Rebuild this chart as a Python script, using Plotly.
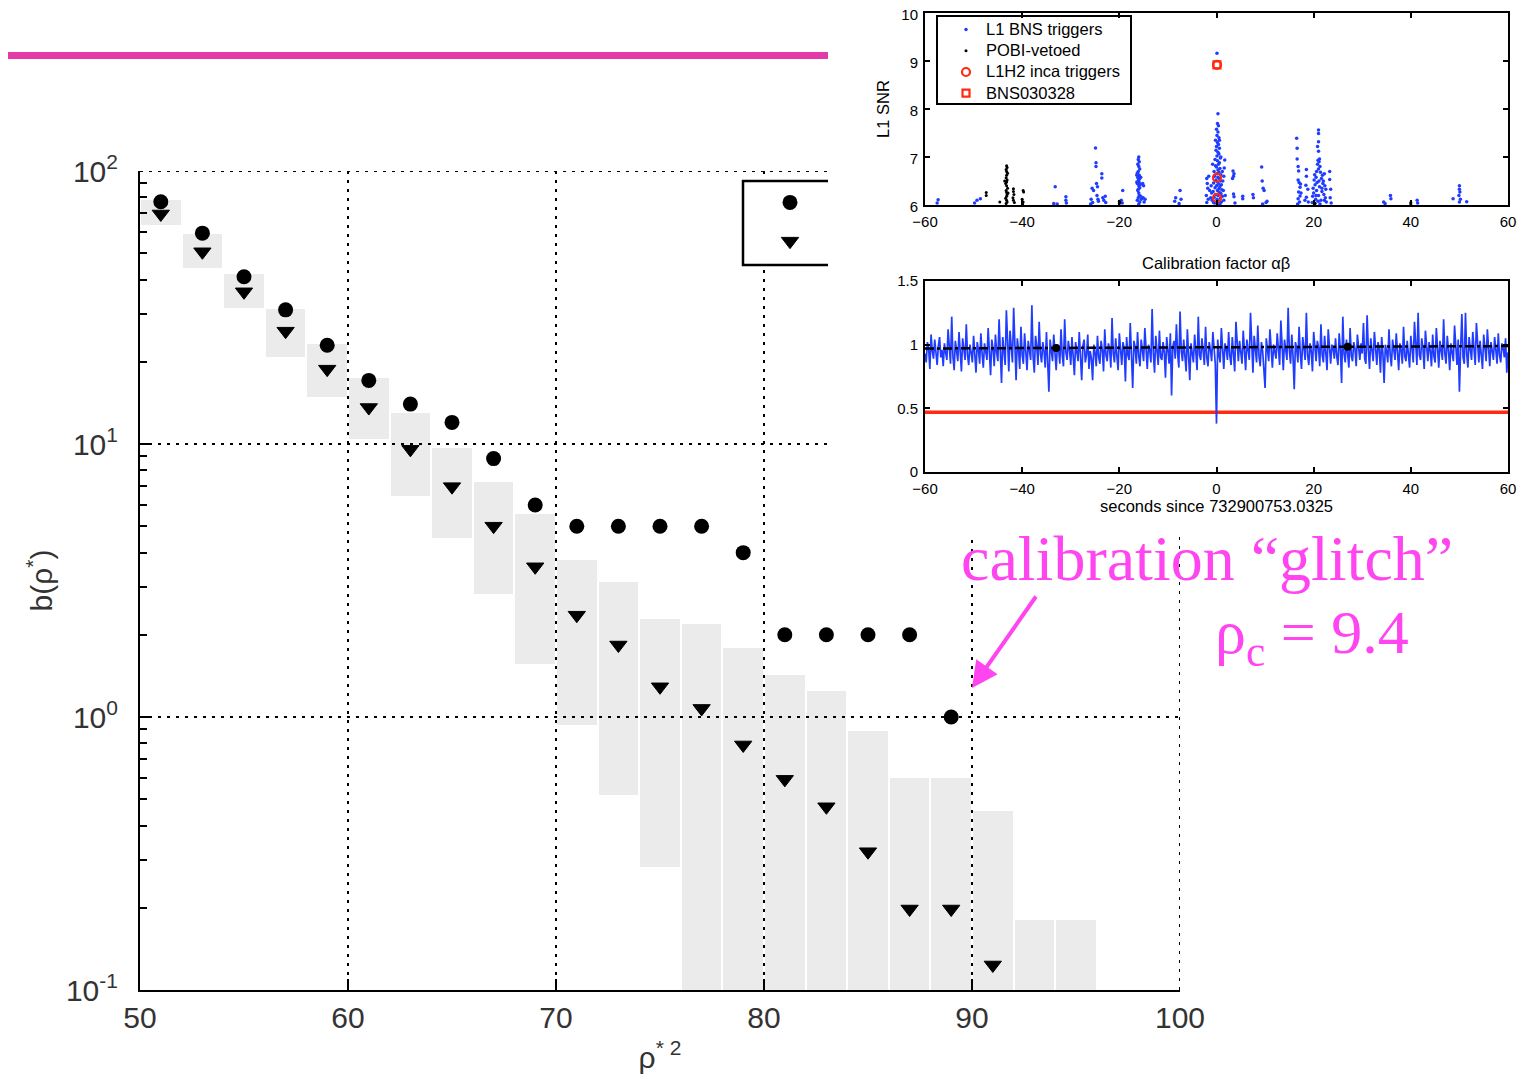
import plotly.graph_objects as go

W, H = 1529, 1079
OFF = 8  # the page body margin shifts the figure by 8 px


def px(x):
    return (x - OFF) / W


def py(y):
    return 1 - (y - OFF) / H


# ---------------- main panel data ----------------
rho2_bins = [51, 53, 55, 57, 59, 61, 63, 65, 67, 69, 71, 73, 75, 77, 79, 81, 83, 85, 87, 89, 91, 93, 95]
box_top = [78.3, 58.7, 41.8, 31.2, 23.2, 17.4, 13.0, 9.69, 7.24, 5.53, 3.76, 3.13, 2.29, 2.19, 1.785,
           1.43, 1.25, 0.891, 0.596, 0.596, 0.454, 0.180, 0.180]
box_bot = [63.4, 44.0, 31.4, 20.9, 14.9, 10.4, 6.47, 4.51, 2.82, 1.56, 0.935, 0.52, 0.283, 0.01, 0.01,
           0.01, 0.01, 0.01, 0.01, 0.01, 0.01, 0.01, 0.01]

circ_x = [51, 53, 55, 57, 59, 61, 63, 65, 67, 69, 71, 73, 75, 77, 79, 81, 83, 85, 87, 89]
circ_y = [77.2, 59.2, 41.0, 31.0, 23.0, 17.1, 14.0, 12.0, 8.84, 5.98, 5.0, 5.0, 5.0, 5.0, 4.0,
          2.0, 2.0, 2.0, 2.0, 1.0]

tri_x = [51, 53, 55, 57, 59, 61, 63, 65, 67, 69, 71, 73, 75, 77, 79, 81, 83, 85, 87, 89, 91]
tri_y = [69.6, 50.6, 36.1, 25.9, 18.8, 13.6, 9.56, 6.98, 5.0, 3.55, 2.36, 1.835, 1.29, 1.075, 0.79,
         0.591, 0.469, 0.321, 0.198, 0.198, 0.1235]

x_ticks = [50, 60, 70, 80, 90, 100]
y_ticks = [0.1, 1, 10, 100]
y_ticktext = ["10<sup>-1</sup>", "10<sup>0</sup>", "10<sup>1</sup>", "10<sup>2</sup>"]
y_minor = [m * d for d in (0.1, 1, 10) for m in range(2, 10)]

# ---------------- inset 1: L1 SNR triggers ----------------
bns_t = [-57.3, -57.5, -49.3, -49.8, -48.6, -33.2, -33.5, -32.8, -31.0, -31.0, -30.9,
         -25.6, -25.3, -25.8, -25.5, -24.9, -24.8, -24.8, -24.7, -24.5, -24.6, -24.4, -24.3, -23.6, -23.6,
         -23.4, -23.2, -22.9, -22.8, -25.9,
         -19.3, -19.6, -19.4,
         -16.0, -16.1, -15.9, -16.2, -16.0, -15.8, -16.1, -16.3, -15.9, -16.0, -16.2, -15.8, -16.0, -16.1,
         -15.9, -16.3, -16.0, -15.8, -16.2, -16.0, -15.9, -16.1, -16.3, -15.8, -16.0, -16.4, -15.6, -16.4,
         -15.7, -16.1, -15.6, -15.5,
         -15.2, -15.0, -15.1, -14.7, -14.9,
         -8.4, -8.6, -7.5, -7.3, -7.7,
         -2.0, -1.9, -1.8, -2.1, -1.7, -2.0, -1.6, -1.4,
         0.1, 0.3, 0.2, 0.4, 0.0, 0.3, 0.1, 0.5, -0.2, 0.2, 0.4, 0.0, 0.6, -0.1, 0.3, 0.5, 0.1, 0.8, -0.3,
         0.2, 0.6, 0.4, -0.2, 0.0, 0.7, 0.3, -0.5, 0.5, 0.1, 0.9, -0.4, 0.3, 0.6, -0.1, 0.8, 0.2, -0.6, 0.4,
         1.0, 0.0, 0.7, -0.3, 0.5, 1.1, 0.2, -0.7, 0.6, 0.9, -0.2, 0.3, 1.2, -0.5, 0.8, 0.1, -0.9, 0.5, 1.0,
         -0.4, 0.7, 0.2, -1.0, -1.1, 1.3, 1.4, 1.5, 1.7, 1.6, 1.5, -0.8, 1.2, -1.2, 1.8, 0.9, 0.6, -0.6,
         3.4, 3.6, 3.5, 3.3, 3.5, 3.6, 3.8,
         5.4, 5.4, 7.5, 7.6, 9.3, 9.4, 9.6, 9.8, 10.2, 10.4, 9.5,
         16.5, 16.6, 16.6, 16.8, 16.9, 16.8, 17.0, 17.2, 16.9, 17.2, 16.8, 17.1, 16.7, 17.3, 17.4,
         18.5, 18.5, 18.4, 18.8, 18.5, 18.9, 18.2,
         21.0, 21.0, 21.0, 20.8, 21.0, 21.2, 20.9, 21.1, 20.8, 21.3, 21.0, 20.6, 21.4, 20.2, 21.8, 22.2,
         20.5, 21.6, 20.1, 22.0, 20.7, 21.9, 20.3, 22.3, 21.2, 19.9, 22.5, 20.6, 21.7, 20.0, 22.1, 21.0,
         19.8, 22.4, 20.4, 21.5, 20.9, 22.6, 20.2, 21.3, 19.7, 22.2, 21.1, 20.5, 21.7,
         23.3, 23.3, 23.5, 23.4, 23.6,
         34.4, 34.7, 35.8, 35.9, 41.3, 41.4, 48.7, 50.0, 50.0, 50.1, 49.9, 50.2, 50.0, 51.5]
bns_snr = [6.11, 6.04, 6.10, 6.04, 6.13, 6.38, 6.03, 6.02, 6.17, 6.10, 6.04,
           6.35, 6.30, 6.12, 6.05, 7.19, 6.88, 6.80, 6.45, 6.38, 6.20, 6.12, 6.08, 6.65, 6.56,
           6.15, 6.10, 6.18, 6.05, 6.02,
           6.30, 6.10, 6.04,
           7.00, 6.95, 6.90, 6.85, 6.80, 6.75, 6.70, 6.66, 6.62, 6.60, 6.57, 6.55, 6.52, 6.50,
           6.47, 6.45, 6.40, 6.36, 6.30, 6.25, 6.20, 6.15, 6.10, 6.06, 6.02, 6.62, 6.58, 6.48,
           6.42, 6.33, 6.18, 6.12,
           6.45, 6.40, 6.15, 6.12, 6.06,
           6.15, 6.08, 6.30, 6.12, 6.03,
           6.55, 6.45, 6.35, 6.20, 6.12, 6.05, 6.60, 6.30,
           9.16, 7.90, 7.70, 7.65, 7.58, 7.52, 7.45, 7.40, 7.35, 7.30, 7.26, 7.22, 7.18, 7.14, 7.10, 7.06, 7.02, 6.98, 6.95,
           6.92, 6.88, 6.85, 6.82, 6.79, 6.76, 6.73, 6.70, 6.68, 6.65, 6.63, 6.60, 6.58, 6.55, 6.52, 6.50, 6.48, 6.46, 6.44,
           6.42, 6.40, 6.38, 6.36, 6.34, 6.32, 6.30, 6.28, 6.26, 6.24, 6.22, 6.20, 6.18, 6.16, 6.14, 6.12, 6.10, 6.08, 6.06,
           6.04, 6.02, 6.01, 6.25, 6.40, 6.50, 6.30, 6.10, 6.94, 6.77, 6.60, 6.85, 6.70, 6.15, 6.20, 7.00, 7.35, 6.05,
           6.71, 6.65, 6.60, 6.55, 6.23, 6.17, 6.04,
           6.18, 6.13, 6.22, 6.15, 6.79, 6.50, 6.35, 6.30, 6.05, 6.08, 6.02,
           7.39, 7.18, 6.96, 6.80, 6.71, 6.52, 6.47, 6.37, 6.27, 6.19, 6.13, 6.06, 6.02, 6.44, 6.25,
           6.74, 6.60, 6.41, 6.33, 6.16, 6.06, 6.10,
           7.56, 7.49, 7.32, 7.22, 7.12, 6.96, 6.93, 6.90, 6.85, 6.80, 6.75, 6.70, 6.68, 6.63, 6.62, 6.65,
           6.58, 6.55, 6.52, 6.50, 6.47, 6.45, 6.42, 6.40, 6.38, 6.35, 6.33, 6.30, 6.28, 6.25, 6.22, 6.20,
           6.18, 6.15, 6.12, 6.10, 6.08, 6.06, 6.04, 6.02, 6.05, 6.10, 6.50, 6.20, 6.35,
           6.70, 6.53, 6.33, 6.15, 6.04,
           6.06, 6.03, 6.20, 6.13, 6.10, 6.04, 6.13, 6.40, 6.33, 6.27, 6.20, 6.12, 6.06, 6.07]

pobi_t = [-47.4, -47.4, -44.6,
          -43.2, -43.1, -43.3, -43.2, -43.0, -43.2, -43.3, -43.1, -43.2, -43.4, -43.2, -43.0, -43.3, -43.2,
          -43.1, -43.2, -43.4, -43.2, -43.1, -43.3, -43.6, -42.9,
          -41.8, -41.8, -41.7, -41.9, -41.8, -41.6,
          -39.8, -39.7, -40.0, -39.8, -39.9,
          -20.0, -20.0, -19.9, 20.3, 40.0, 40.0]
pobi_snr = [6.26, 6.20, 6.06,
            6.82, 6.78, 6.74, 6.70, 6.66, 6.62, 6.57, 6.52, 6.48, 6.45, 6.40, 6.35, 6.30, 6.26,
            6.22, 6.18, 6.14, 6.10, 6.06, 6.03, 6.50, 6.25,
            6.34, 6.28, 6.22, 6.15, 6.10, 6.05,
            6.30, 6.27, 6.12, 6.06, 6.02,
            6.08, 6.03, 6.05, 6.03, 6.05, 6.02]

inca_t = [0.1, 0.1, 0.1]
inca_snr = [8.92, 6.57, 6.15]
bns030328_t = [0.1]
bns030328_snr = [8.92]

# ---------------- inset 2: calibration factor ----------------
calib_t0 = -60
calib_dt = 0.25
calib = [
    0.93, 0.86, 1.02, 0.97, 0.81, 1.08, 0.95, 0.89, 1.04, 0.92, 0.84, 0.99, 1.06, 0.90, 0.96, 0.83, 1.01, 0.94, 0.88, 1.12,
    0.97, 0.85, 1.22, 0.91, 0.80, 1.03, 0.95, 0.87, 1.10, 0.93, 0.79, 1.05, 0.98, 0.88, 1.16, 0.92, 0.84, 1.00, 0.94, 0.86,
    1.07, 0.90, 0.78, 1.02, 0.96, 0.85, 1.09, 0.93, 0.82, 1.01, 0.95, 0.88, 1.13, 0.91, 0.76, 1.04, 0.97, 0.83, 1.08, 0.94,
    0.87, 1.20, 0.90, 0.70, 1.06, 0.95, 0.84, 1.27, 0.93, 0.79, 1.11, 0.98, 0.86, 1.29, 0.89, 0.72, 1.05, 0.96, 0.81, 1.14,
    0.92, 0.85, 1.09, 0.97, 0.80, 1.03, 0.94, 0.88, 1.31, 0.91, 0.78, 1.07, 0.99, 0.84, 1.18, 0.93, 0.86, 1.02, 0.95, 0.82,
    1.10, 0.90, 0.63, 1.04, 0.96, 0.87, 1.08, 0.93, 0.80, 1.00, 0.97, 0.85, 1.12, 0.92, 0.83, 1.20, 0.94, 0.88, 1.03, 0.96,
    0.84, 1.06, 0.91, 0.76, 1.02, 0.95, 0.87, 1.10, 0.93, 0.72, 0.99, 1.04, 0.86, 0.92, 1.08, 0.81, 0.95, 0.89, 0.72, 1.00,
    0.94, 0.83, 1.07, 0.90, 0.85, 1.03, 0.96, 0.79, 1.12, 0.92, 0.87, 1.01, 0.97, 0.82, 1.21, 0.93, 0.86, 1.05, 0.91, 0.80,
    1.09, 0.95, 0.84, 1.02, 0.97, 0.71, 1.06, 0.92, 0.88, 1.17, 0.94, 0.66, 1.03, 0.98, 0.85, 1.10, 0.91, 0.83, 1.04, 0.95,
    0.87, 1.13, 0.92, 0.81, 1.00, 0.96, 0.86, 1.28, 0.93, 0.78, 1.07, 0.97, 0.84, 1.11, 0.90, 0.88, 1.02, 0.94, 0.74, 1.06,
    0.95, 0.85, 1.09, 0.60, 0.98, 1.03, 0.89, 1.16, 0.93, 0.82, 1.26, 0.95, 0.87, 1.04, 0.91, 0.79, 1.12, 0.96, 0.72, 1.01,
    0.93, 0.86, 1.08, 0.97, 0.80, 1.22, 0.92, 0.88, 1.05, 0.95, 0.84, 1.14, 0.90, 0.83, 1.02, 0.96, 0.87, 1.10, 0.93, 0.85,
    0.38, 1.04, 0.92, 0.86, 1.13, 0.95, 0.81, 1.01, 0.97, 0.88, 1.10, 0.91, 0.84, 1.06, 0.94, 0.79, 1.18, 0.96, 0.87, 1.03,
    0.92, 0.85, 1.11, 0.97, 0.80, 1.04, 0.94, 0.88, 1.25, 0.93, 0.78, 1.07, 0.98, 0.86, 1.15, 0.91, 0.83, 1.02, 0.95, 0.74,
    0.66, 1.05, 0.93, 0.87, 1.12, 0.96, 0.82, 1.00, 0.94, 0.89, 1.09, 0.92, 0.84, 1.19, 0.97, 0.80, 1.04, 0.93, 0.88, 1.29,
    0.95, 0.85, 1.08, 0.91, 0.65, 1.02, 0.97, 0.86, 1.14, 0.93, 0.81, 1.06, 0.96, 0.88, 1.25, 0.92, 0.84, 1.01, 0.95, 0.79,
    1.10, 0.94, 0.87, 1.03, 0.98, 0.83, 1.16, 0.92, 0.86, 1.07, 0.95, 0.80, 1.12, 0.93, 0.85, 1.00, 0.97, 0.89, 1.05, 0.91,
    0.84, 1.09, 0.96, 0.70, 1.22, 0.93, 0.86, 1.04, 0.95, 0.82, 1.13, 0.91, 0.87, 1.02, 0.97, 0.83, 1.08, 0.94, 0.88, 1.01,
    0.93, 1.17, 0.89, 0.85, 1.23, 0.96, 0.81, 1.05, 0.92, 0.87, 1.10, 0.95, 0.84, 1.02, 0.97, 0.78, 1.06, 0.93, 0.70, 1.00,
    0.95, 0.86, 1.12, 0.92, 0.83, 1.04, 0.97, 0.88, 1.09, 0.94, 0.80, 1.01, 0.96, 0.85, 1.14, 0.91, 0.87, 1.03, 0.95, 0.82,
    1.07, 0.93, 0.86, 1.18, 0.96, 0.84, 1.25, 0.92, 0.88, 1.05, 0.97, 0.81, 1.11, 0.94, 0.87, 1.02, 0.95, 0.83, 1.08, 0.91,
    0.86, 1.13, 0.94, 0.82, 1.03, 0.97, 0.88, 1.20, 0.93, 0.85, 1.07, 0.96, 0.80, 1.01, 0.92, 0.87, 1.15, 0.94, 0.84, 1.04,
    0.63, 0.97, 1.24, 0.90, 0.85, 1.25, 0.93, 0.82, 1.06, 0.96, 0.88, 1.10, 0.92, 0.84, 1.17, 0.95, 0.86, 1.03, 0.91, 0.81,
    1.08, 0.94, 0.87, 1.12, 0.96, 0.83, 1.02, 0.93, 0.88, 1.06, 0.95, 0.85, 1.09, 0.92, 0.86, 1.01, 0.97, 0.90, 1.05, 0.78,
    0.94,
]
ref_t = [-60, 60]
ref_val = [0.970, 0.989]
ref_pt_t = [-33, 27]
ref_pt_val = [0.974, 0.984]
thresh_t = [-60, 60]
thresh_val = [0.47, 0.47]

# ---------------- styling ----------------
SANS = "Liberation Sans, Arial, Helvetica, sans-serif"
SERIF = "Liberation Serif, Times New Roman, serif"
MAIN_FONT = dict(family=SANS, size=30, color="#333333")
TICK_FONT = dict(family=SANS, size=15, color="black")
SMALL_FONT = dict(family=SANS, size=16.5, color="black")
MAGENTA = "#ff45f0"
BLUE = "#1f3cff"
GRID_DASH = "3px,6px"


def leg_label(s):
    return f'<span style="font-size:16.5px">{s}</span>'


fig = go.Figure()

# main panel (boxes translucent so the dotted grid shows through them)
fig.add_trace(go.Bar(
    x=rho2_bins, y=[t - b for t, b in zip(box_top, box_bot)], base=box_bot, width=1.9,
    marker=dict(color="rgba(0,0,0,0.08)", line=dict(width=0)),
    showlegend=False, hoverinfo="skip", xaxis="x", yaxis="y"))
fig.add_trace(go.Scatter(
    x=circ_x, y=circ_y, mode="markers", name=" ", legend="legend",
    marker=dict(symbol="circle", size=15, color="black"), xaxis="x", yaxis="y"))
fig.add_trace(go.Scatter(
    x=tri_x, y=tri_y, mode="markers", name="  ", legend="legend",
    marker=dict(symbol="triangle-down", size=15, color="black", line=dict(color="black", width=1)),
    xaxis="x", yaxis="y"))

# white cover panel for the inset area
fig.add_trace(go.Scatter(x=[None], y=[None], xaxis="x2", yaxis="y2", showlegend=False, hoverinfo="skip"))

# inset 1
fig.add_trace(go.Scatter(
    x=bns_t, y=bns_snr, mode="markers", name=leg_label("L1 BNS triggers"), legend="legend2",
    marker=dict(size=3.5, color=BLUE), xaxis="x3", yaxis="y3"))
fig.add_trace(go.Scatter(
    x=pobi_t, y=pobi_snr, mode="markers", name=leg_label("POBI-vetoed"), legend="legend2",
    marker=dict(size=3, color="black"), xaxis="x3", yaxis="y3"))
fig.add_trace(go.Scatter(
    x=inca_t, y=inca_snr, mode="markers", name=leg_label("L1H2 inca triggers"), legend="legend2",
    marker=dict(symbol="circle-open", size=8, color="#ff2a10", line=dict(width=2.2)), xaxis="x3", yaxis="y3"))
fig.add_trace(go.Scatter(
    x=bns030328_t, y=bns030328_snr, mode="markers", name=leg_label("BNS030328"), legend="legend2",
    marker=dict(symbol="square-open", size=7, color="#ff2a10", line=dict(width=2.2)), xaxis="x3", yaxis="y3"))

# inset 2
fig.add_trace(go.Scatter(
    x=thresh_t, y=thresh_val, mode="lines", line=dict(color="#ff2a10", width=3.5),
    showlegend=False, xaxis="x4", yaxis="y4"))
fig.add_trace(go.Scatter(
    x0=calib_t0, dx=calib_dt, y=calib, mode="lines", line=dict(color=BLUE, width=1.7),
    showlegend=False, xaxis="x4", yaxis="y4"))
fig.add_trace(go.Scatter(
    x=ref_t, y=ref_val, mode="lines", line=dict(color="black", width=2.5, dash="dashdot"),
    showlegend=False, xaxis="x4", yaxis="y4"))
fig.add_trace(go.Scatter(
    x=ref_pt_t, y=ref_pt_val, mode="markers", marker=dict(color="black", size=8),
    showlegend=False, xaxis="x4", yaxis="y4"))

inset_axis = dict(showline=True, linecolor="black", linewidth=2, mirror="ticks", ticks="inside",
                  ticklen=5, tickwidth=1.5, tickcolor="black", showgrid=False, zeroline=False,
                  tickfont=TICK_FONT, ticklabelstandoff=2, automargin=False,
                  ticklabeloverflow="allow")

fig.update_layout(
    width=W, height=H, autosize=False,
    margin=dict(l=0, r=0, t=0, b=0, pad=0, autoexpand=False),
    paper_bgcolor="white", plot_bgcolor="white",
    bargap=0,
    xaxis=dict(domain=[px(140), px(1180)], range=[50, 100], tickvals=x_ticks,
               ticks="inside", ticklen=11, tickwidth=1.5, tickcolor="black",
               showline=True, linecolor="black", linewidth=2,
               showgrid=True, gridcolor="black", gridwidth=2, griddash=GRID_DASH, zeroline=False,
               tickfont=MAIN_FONT, ticklabelstandoff=0, automargin=False,
               title=dict(text="ρ<sup>* 2</sup>", font=MAIN_FONT, standoff=14), anchor="y"),
    yaxis=dict(domain=[py(990), py(171)], type="log", range=[-1, 2],
               tickvals=y_ticks, ticktext=y_ticktext,
               ticks="inside", ticklen=12, tickwidth=1.5, tickcolor="black",
               minor=dict(ticks="inside", ticklen=7, tickwidth=1.5, tickcolor="black",
                          tickvals=y_minor, showgrid=False),
               showline=True, linecolor="black", linewidth=2,
               showgrid=True, gridcolor="black", gridwidth=2, griddash=GRID_DASH, zeroline=False,
               tickfont=MAIN_FONT, ticklabelstandoff=14, automargin=False,
               title=dict(text="b(ρ<sup>*</sup>)", font=MAIN_FONT, standoff=4), anchor="x"),
    xaxis2=dict(domain=[px(828), 1.0], visible=False, range=[0, 1], anchor="y2", automargin=False),
    yaxis2=dict(domain=[py(537), 1.0], visible=False, range=[0, 1], anchor="x2", automargin=False),
    xaxis3=dict(domain=[px(925), px(1508)], range=[-60, 60], tickvals=[-60, -40, -20, 0, 20, 40, 60],
                anchor="y3", **inset_axis),
    yaxis3=dict(domain=[py(205), py(13)], range=[6, 10], tickvals=[6, 7, 8, 9, 10], anchor="x3",
                ticklabelshift=2,
                title=dict(text="L1 SNR", font=SMALL_FONT, standoff=8), **inset_axis),
    xaxis4=dict(domain=[px(925), px(1508)], range=[-60, 60], tickvals=[-60, -40, -20, 0, 20, 40, 60],
                anchor="y4", title=dict(text="seconds since 732900753.0325", font=SMALL_FONT, standoff=1),
                **inset_axis),
    yaxis4=dict(domain=[py(472), py(281)], range=[0, 1.5], tickvals=[0, 0.5, 1, 1.5],
                ticktext=["0", "0.5", "1", "1.5"], anchor="x4", **inset_axis),
    legend=dict(x=px(770), y=py(178), xanchor="left", yanchor="top", bgcolor="rgba(0,0,0,0)",
                borderwidth=0, font=dict(size=27.5), itemsizing="trace", traceorder="normal"),
    legend2=dict(x=px(946), y=py(14), xanchor="left", yanchor="top", bgcolor="rgba(0,0,0,0)",
                 borderwidth=0, font=dict(family=SANS, size=14, color="black"),
                 itemsizing="trace", traceorder="normal"),
    shapes=[
        # closing dotted lines of the main box (grid at the range ends)
        dict(type="line", xref="x", yref="y", x0=50, x1=100, y0=100, y1=100,
             line=dict(color="black", width=2, dash=GRID_DASH), layer="below"),
        dict(type="line", xref="x", yref="y", x0=100, x1=100, y0=0.1, y1=100,
             line=dict(color="black", width=2, dash=GRID_DASH), layer="below"),
        dict(type="line", xref="paper", yref="paper", x0=px(8), x1=px(828), y0=py(55.5), y1=py(55.5),
             line=dict(color="#e23aa6", width=7), layer="above"),
        dict(type="rect", xref="paper", yref="paper", x0=px(743), x1=px(828), y0=py(265), y1=py(181),
             fillcolor="white", line=dict(width=0), layer="above"),
        dict(type="path", xref="paper", yref="paper",
             path=f"M {px(828)},{py(181)} L {px(743)},{py(181)} L {px(743)},{py(265)} L {px(828)},{py(265)}",
             line=dict(color="black", width=2.5), layer="above"),
        dict(type="rect", xref="paper", yref="paper", x0=px(937), x1=px(1131), y0=py(104), y1=py(16),
             line=dict(color="black", width=2), layer="above"),
    ],
    annotations=[
        dict(text="Calibration factor αβ", xref="paper", yref="paper", x=px(1216), y=py(263),
             xanchor="center", yanchor="middle", showarrow=False, font=SMALL_FONT),
        dict(text="calibration “glitch”", xref="paper", yref="paper", x=px(959), y=py(558),
             xanchor="left", yanchor="middle", showarrow=False,
             font=dict(family=SERIF, size=64, color=MAGENTA)),
        dict(text="ρ<sub>c</sub> = 9.4", xref="paper", yref="paper", x=px(1213), y=py(636),
             xanchor="left", yanchor="middle", showarrow=False,
             font=dict(family=SERIF, size=62, color=MAGENTA)),
        dict(text="", xref="paper", yref="paper", x=px(972), y=py(688), ax=65, ay=-93,
             axref="pixel", ayref="pixel", showarrow=True, arrowhead=2, arrowsize=1.3,
             arrowwidth=4, arrowcolor=MAGENTA, standoff=0),
    ],
)

fig.write_html("out.html")
